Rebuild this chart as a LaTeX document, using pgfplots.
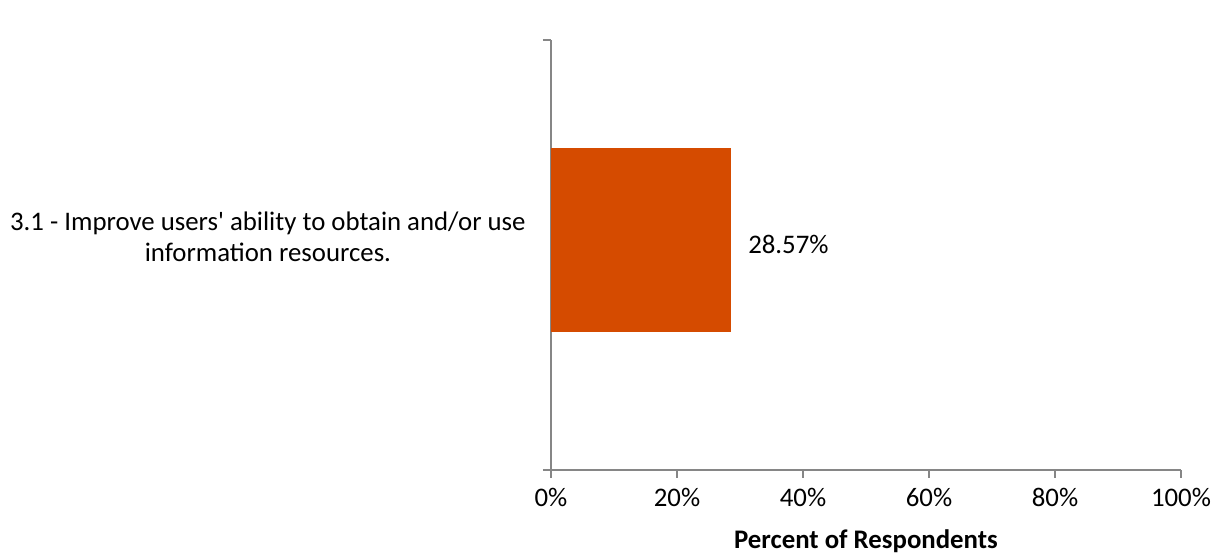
\documentclass[border=0pt]{standalone}
\usepackage{pgfplots}
\pgfplotsset{compat=1.18}
\usepackage{fontspec}
\setmainfont{Carlito}
\definecolor{barc}{HTML}{D54B00}
\definecolor{axc}{HTML}{868686}
\begin{document}
\fontsize{13.4pt}{15.5pt}\selectfont
\begin{tikzpicture}
\useasboundingbox (-275.5pt,-43pt) rectangle (333pt,235pt);
\begin{axis}[
  at={(0pt,0pt)}, anchor=south west,
  scale only axis, width=315pt, height=215pt,
  xbar, bar width=184,
  xmin=0, xmax=100, ymin=0, ymax=430,
  axis lines*=left,
  axis line style={axc, line width=0.6pt},
  xtick={0,20,40,60,80,100},
  xticklabels={0\%,20\%,40\%,60\%,80\%,100\%},
  x tick label style={yshift=-0.5pt},
  xtick style={axc, line width=0.6pt},
  tick align=outside,
  major tick length=4pt,
  ytick={0,430},
  yticklabels={},
  ytick style={axc, line width=0.6pt},
  extra y ticks={233},
  extra y tick labels={{3.1 - Improve users\textquotesingle\ ability to obtain and/or use\\information resources.}},
  extra y tick style={major tick length=0pt, y tick label style={align=center, xshift=-8pt}},
  xlabel={\textbf{Percent of Respondents}},
  xlabel style={yshift=-2.5pt},
  nodes near coords={\pgfmathprintnumber[fixed,precision=2,fixed zerofill]{\pgfplotspointmeta}\%},
  point meta=x,
  nodes near coords style={anchor=west, xshift=4pt, yshift=-2pt, text=black},
  /pgf/number format/assume math mode=true,
  clip=false,
]
\addplot[fill=barc, draw=none] coordinates {(28.57,230)};
\end{axis}
\end{tikzpicture}
\end{document}
